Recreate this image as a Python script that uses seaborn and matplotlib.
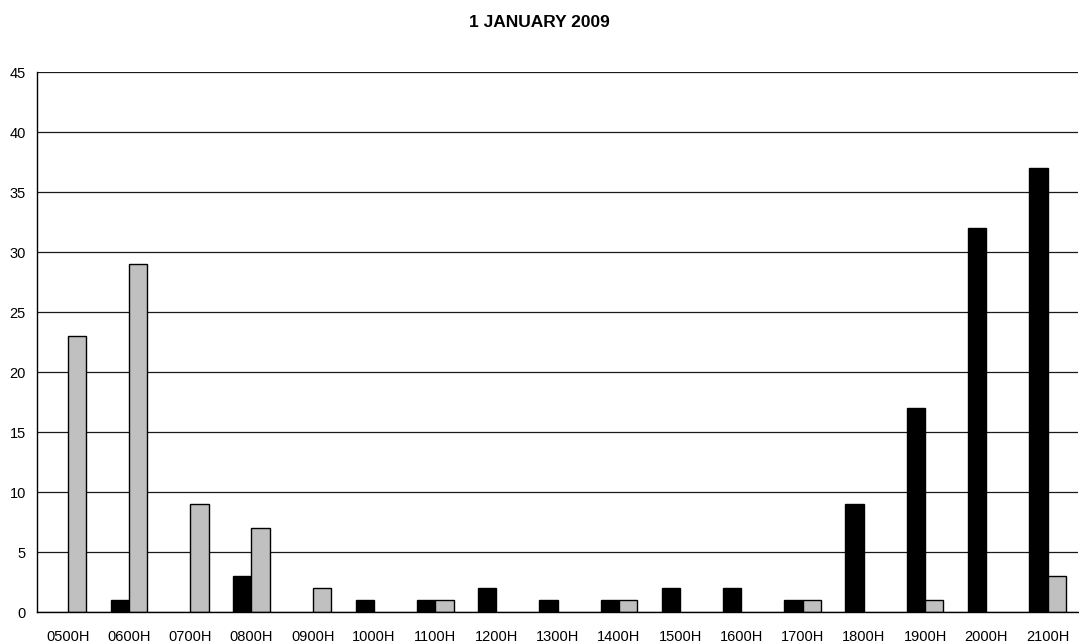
import matplotlib
matplotlib.use("Agg")
import matplotlib.pyplot as plt
import seaborn as sns
import pandas as pd
import numpy as np

hours = ["0500H", "0600H", "0700H", "0800H", "0900H", "1000H", "1100H", "1200H",
         "1300H", "1400H", "1500H", "1600H", "1700H", "1800H", "1900H", "2000H", "2100H"]
series_dark = [0, 1, 0, 3, 0, 1, 1, 2, 1, 1, 2, 2, 1, 9, 17, 32, 37]
series_light = [23, 29, 9, 7, 2, 0, 1, 0, 0, 1, 0, 0, 1, 0, 1, 0, 3]
series_names = ["A", "B"]
y_ticks = [0, 5, 10, 15, 20, 25, 30, 35, 40, 45]
title = "1 JANUARY 2009"

df = pd.DataFrame({
    "hour": hours * 2,
    "count": series_dark + series_light,
    "series": [series_names[0]] * len(hours) + [series_names[1]] * len(hours),
})

sns.set_style("white")
plt.rcParams["font.family"] = ["Liberation Sans", "DejaVu Sans"]

fig = plt.figure(figsize=(10.79, 6.43), dpi=100)
ax = fig.add_axes([0.0343, 0.0482, 0.965, 0.8398])

sns.barplot(data=df, x="hour", y="count", hue="series", order=hours,
            hue_order=series_names, palette=["#000000", "#c0c0c0"],
            edgecolor="black", linewidth=1.0, width=0.6, legend=False,
            errorbar=None, ax=ax)

# empty bars leave no outline on the baseline
for patch in ax.patches:
    if patch.get_height() == 0:
        patch.set_visible(False)

ax.set_ylim(0, 45)
ax.set_xlim(-0.5, len(hours) - 0.5)
ax.set_yticks(y_ticks)
ax.yaxis.grid(True, color="#1a1a1a", linewidth=0.9)
ax.set_axisbelow(True)

# ticks sit on the category boundaries, labels at the centres
ax.set_xticks(np.arange(len(hours)))
ax.set_xticklabels(hours)
ax.set_xticks(np.arange(-0.5, len(hours), 1.0), minor=True)
ax.tick_params(axis="x", which="major", length=0, labelsize=10.5, pad=13, labelcolor="black")
ax.tick_params(axis="x", which="minor", length=5, width=1, color="black", direction="out")
ax.tick_params(axis="y", length=5, width=1, color="black", direction="out",
               labelsize=10.5, labelcolor="black", pad=3)

for side in ["top", "right"]:
    ax.spines[side].set_visible(False)
for side in ["left", "bottom"]:
    ax.spines[side].set_color("black")
    ax.spines[side].set_linewidth(1)

ax.set_xlabel("")
ax.set_ylabel("")
fig.suptitle(title, fontsize=12.5, fontweight="bold", y=0.977, color="black")

fig.savefig("out.png", dpi=100)
